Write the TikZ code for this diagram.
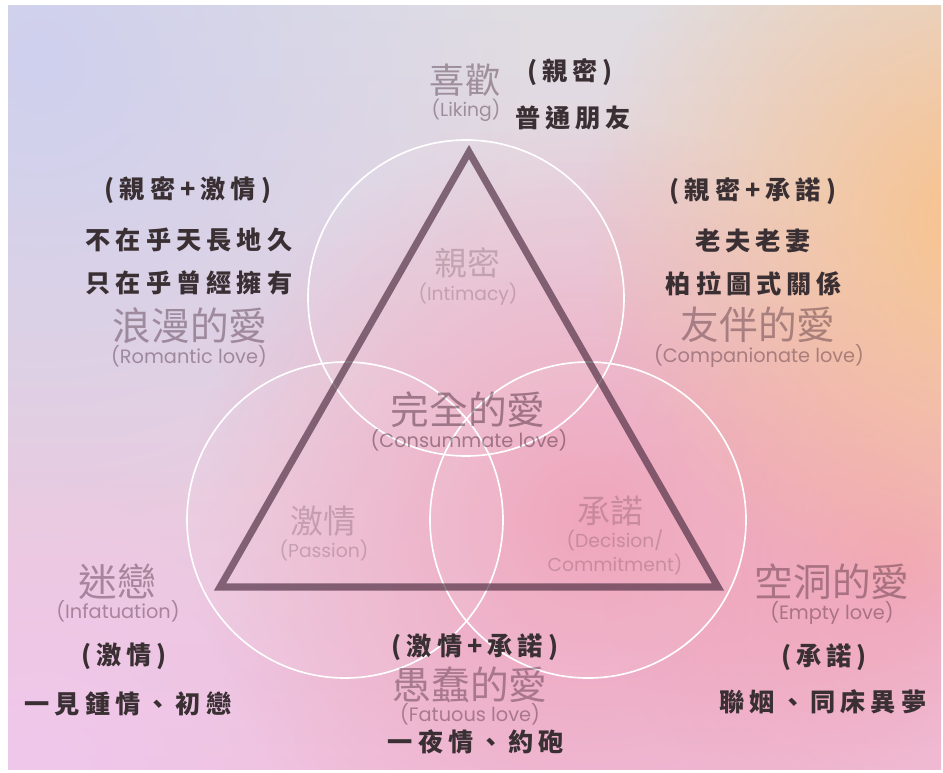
\documentclass[tikz,border=0pt]{standalone}
\usepackage{fontspec}
\usetikzlibrary{fadings}
\setmainfont{Poppins}
\newfontfamily\cjk{Noto Sans CJK TC}
\newfontfamily\cjkb[LetterSpace=20]{Noto Sans CJK TC}
\definecolor{bgtop}{HTML}{E0DDE2}
\definecolor{bgbot}{HTML}{EFC2DE}
\definecolor{lav}{HTML}{CFD0EE}
\definecolor{peach}{HTML}{F9C28A}
\definecolor{pinkc}{HTML}{EFA0B8}
\definecolor{pinkr}{HTML}{F3A0B2}
\definecolor{vpink}{HTML}{F0C8EC}
\definecolor{labc}{HTML}{402030}
\definecolor{callc}{HTML}{3A3034}
\definecolor{tric}{HTML}{4A2A3E}
\tikzfading[name=softfade, inner color=transparent!0, outer color=transparent!100]
\tikzset{
  biglab/.style={font=\cjk\fontsize{33}{36}\selectfont, text=labc, text opacity=0.4, inner sep=0pt},
  enlab/.style={font=\fontsize{16.5}{19}\selectfont, text=labc, text opacity=0.4, inner sep=0pt},
  inlab/.style={font=\cjk\fontsize{28}{30}\selectfont, text=labc, text opacity=0.22, inner sep=0pt},
  inen/.style={font=\fontsize{16}{20.5}\selectfont, text=labc, text opacity=0.22, inner sep=0pt, align=center},
  call/.style={font=\cjkb\bfseries\fontsize{21.5}{24}\selectfont, text=callc, inner sep=0pt},
  ring/.style={circle, draw=white, line width=1.4pt, fill=white, fill opacity=0.07, minimum size=9.48cm, inner sep=0pt},
  tri/.style={draw=tric, draw opacity=0.65, line width=6pt, line join=miter}
}
\begin{document}
\begin{tikzpicture}[x=0.03cm,y=-0.03cm]
\useasboundingbox (0,0) rectangle (943,772);
\fill[white] (0,0) rectangle (943,772);
\begin{scope}
\clip (8,5) rectangle (941,769);
\shade[top color=bgtop, bottom color=bgbot] (8,5) rectangle (941,769);
\fill[lav, path fading=softfade] (40,60) circle (480);
\fill[vpink, path fading=softfade] (40,780) circle (320);
\fill[pinkc, path fading=softfade] (590,520) circle (400);
\fill[pinkr, path fading=softfade, fill opacity=0.8] (900,560) circle (300);
\fill[peach, path fading=softfade] (985,220) circle (400);
\end{scope}

% circles
\node[ring] (ctop) at (466,298) {};
\node[ring] (cleft) at (345,520) {};
\node[ring] (cright) at (588,520) {};

% triangle
\coordinate (A) at (469,152);
\coordinate (B) at (220,587);
\coordinate (C) at (718,587);
\draw[tri] (A) -- (B) -- (C) -- cycle;

% inner labels
\node[inlab] (intim) at (467,263) {親密};
\node[inen] (intimen) at (468,294) {(Intimacy)};
\node[inlab] (pass) at (323,521) {激情};
\node[inen] (passen) at (324,550) {(Passion)};
\node[inlab] (commit) at (610,511) {承諾};
\node[inen] (commiten) at (615,552) {(Decision/\\Commitment)};
\node[biglab, text opacity=0.45] (cons) at (468,410) {完全的愛};
\node[enlab, text opacity=0.45] (consen) at (469,440) {(Consummate love)};

% top
\node[biglab, font=\cjk\fontsize{30}{33}\selectfont] (lik) at (465,80) {喜歡};
\node[enlab, font=\fontsize{16}{18}\selectfont] (liken) at (466,110) {(Liking)};
\node[call] (likp) at (570,72) {(親密)};
\node[call] (likx) at (573,118) {普通朋友};

% left
\node[call] (romp) at (188,190) {(親密+激情)};
\node[call] (rom1) at (189,240) {不在乎天長地久};
\node[call] (rom2) at (189,283) {只在乎曾經擁有};
\node[biglab] (rom) at (190,326) {浪漫的愛};
\node[enlab] (romen) at (189,356) {(Romantic love)};

% right
\node[call] (compp) at (753,191) {(親密+承諾)};
\node[call] (comp1) at (753,241) {老夫老妻};
\node[call] (comp2) at (754,284) {柏拉圖式關係};
\node[biglab] (comp) at (758,325) {友伴的愛};
\node[enlab] (compen) at (759,356) {(Companionate love)};

% bottom left
\node[biglab] (inf) at (117,582) {迷戀};
\node[enlab] (infen) at (118,611) {(Infatuation)};
\node[call] (infp) at (124,656) {(激情)};
\node[call] (infx) at (128,704) {一見鍾情、初戀};

% bottom right
\node[biglab] (emp) at (832,582) {空洞的愛};
\node[enlab] (empen) at (832,613) {(Empty love)};
\node[call] (empp) at (824,657) {(承諾)};
\node[call] (empx) at (823,702) {聯姻、同床異夢};

% bottom centre
\node[call] (fatp) at (475,647) {(激情+承諾)};
\node[biglab] (fat) at (470,685) {愚蠢的愛};
\node[enlab] (faten) at (470,714) {(Fatuous love)};
\node[call] (fatx) at (476,742) {一夜情、約砲};
\end{tikzpicture}
\end{document}
